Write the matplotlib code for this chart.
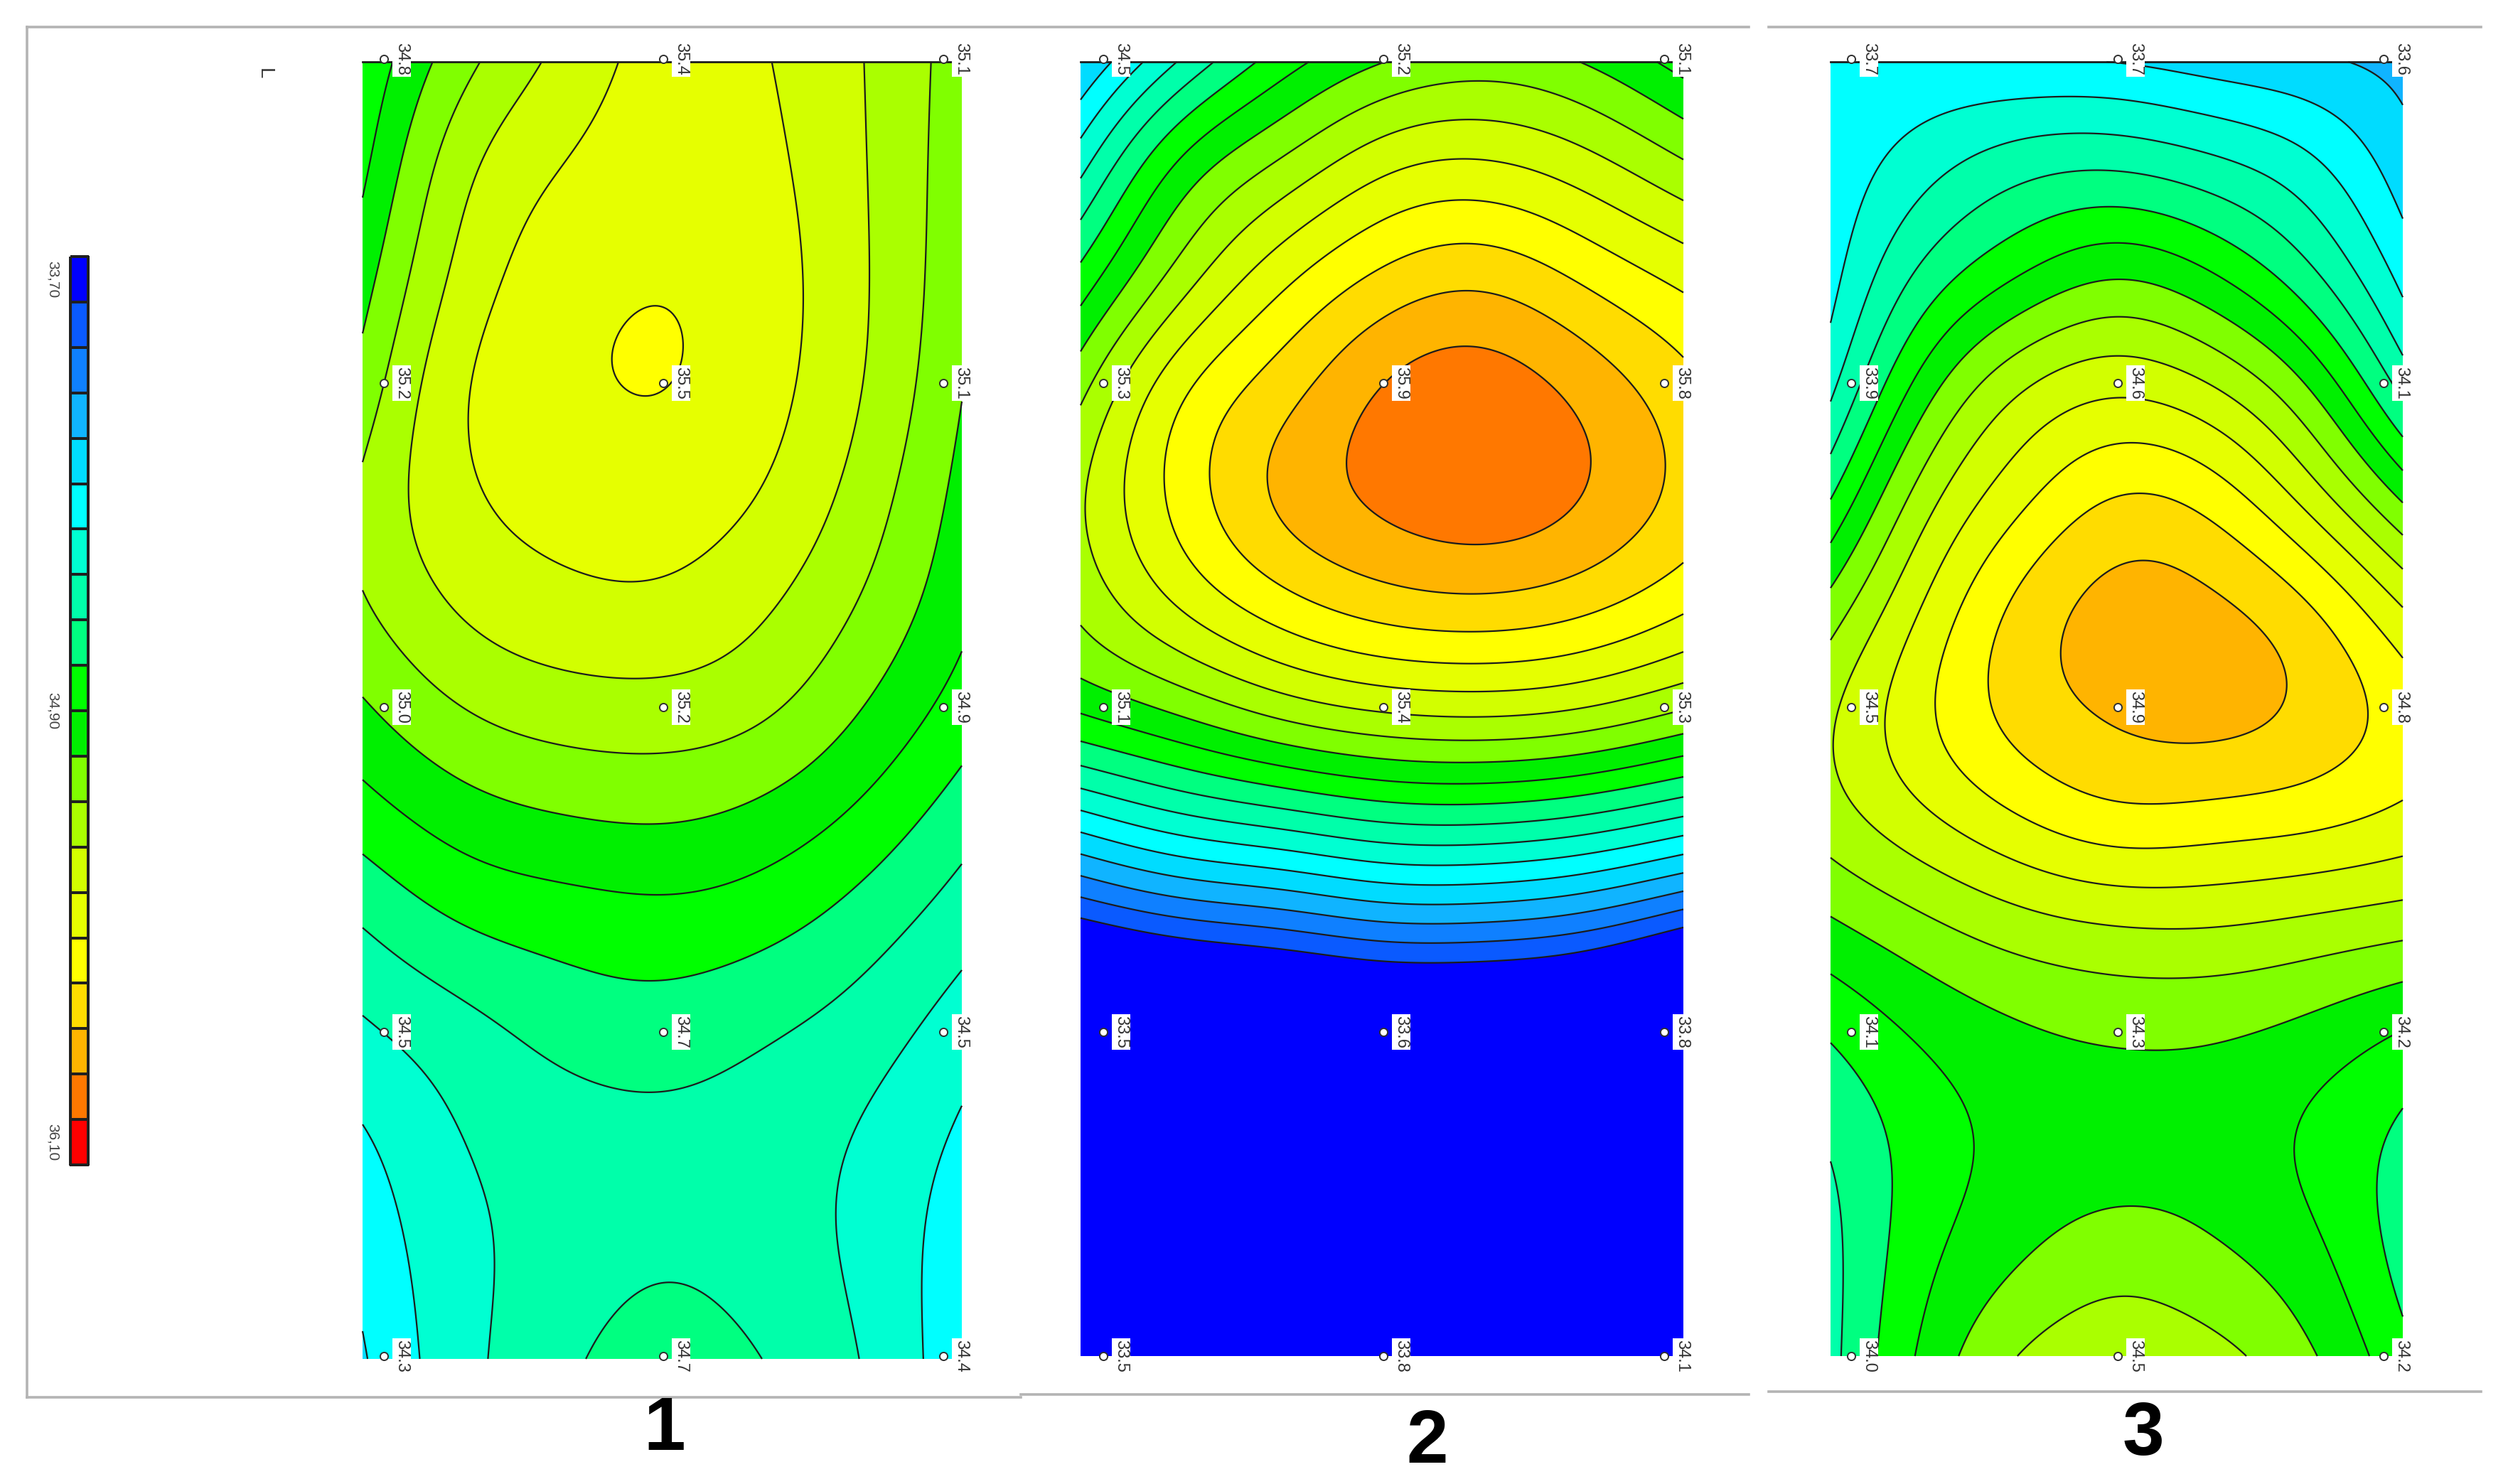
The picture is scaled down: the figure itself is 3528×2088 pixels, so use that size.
import numpy as np
import matplotlib
matplotlib.use("Agg")
import matplotlib.pyplot as plt

# --------- DATA ---------
# values are read off the picture in colour-band units: band k spans k..k+1
bar_colors = ['#0000ff', '#0a5aff', '#0f80ff', '#10b4ff', '#00dcff',
              '#00ffff', '#00ffd2', '#00ffaa', '#00ff80', '#00ff00',
              '#00f000', '#80ff00', '#aaff00', '#d2ff00', '#e6ff00',
              '#ffff00', '#ffdc00', '#ffb400', '#ff7800', '#ff0000']
bar_labels = ["33,70", "34,90", "36,10"]

panel1_bands = [
    [9.2, 11.7, 13.3, 14.4, 14.1, 13.05, 11.5],
    [9.8, 12.8, 14.05, 14.6, 14.3, 13.1, 11.4],
    [10.6, 13.4, 14.6, 14.97, 14.5, 13.15, 11.3],
    [11.4, 13.98, 14.83, 15.08, 14.42, 13.05, 11.05],
    [12.2, 13.85, 14.42, 14.55, 14.0, 12.6, 10.7],
    [11.95, 13.2, 13.75, 13.85, 13.2, 11.95, 10.3],
    [10.85, 12.0, 12.5, 12.6, 12.2, 11.0, 9.55],
    [9.5, 10.5, 10.95, 11.1, 10.7, 9.75, 8.45],
    [8.0, 9.0, 9.4, 9.6, 9.3, 8.5, 7.4],
    [6.8, 7.6, 8.3, 8.5, 8.1, 7.5, 6.45],
    [5.85, 7.0, 7.5, 7.7, 7.5, 6.9, 5.8],
    [5.3, 6.75, 7.4, 7.85, 7.5, 6.8, 5.4],
    [4.9, 6.72, 7.75, 8.6, 8.0, 7.0, 5.3],
]
panel2_bands = [
    [4.0, 7.15, 9.55, 11.0, 11.55, 11.0, 9.6],
    [6.8, 10.45, 12.3, 13.9, 14.3, 13.55, 12.25],
    [9.35, 12.5, 14.75, 16.25, 16.8, 15.85, 14.75],
    [11.7, 14.87, 16.55, 18.1, 18.6, 17.7, 16.35],
    [12.93, 15.45, 17.3, 18.3, 18.75, 18.1, 16.75],
    [12.35, 14.25, 15.75, 16.65, 16.9, 16.45, 15.35],
    [10.25, 11.3, 12.5, 13.2, 13.4, 13.05, 12.1],
    [5.7, 6.9, 7.6, 8.3, 8.4, 7.95, 7.0],
    [0.7, 1.7, 2.2, 2.9, 2.9, 2.4, 1.15],
    [-4.0, -3.0, -2.5, -2.0, -2.0, -2.5, -4.0],
    [-5.0, -4.0, -3.5, -3.0, -3.0, -4.0, -5.0],
    [-5.5, -5.0, -4.0, -3.5, -3.5, -4.5, -5.5],
    [-6.0, -5.0, -4.5, -4.0, -4.0, -5.0, -6.0],
]
panel3_bands = [
    [5.1, 5.15, 5.05, 5.0, 4.55, 4.2, 3.7],
    [5.3, 6.7, 7.75, 8.0, 7.4, 6.4, 4.5],
    [5.65, 8.4, 10.05, 11.05, 10.15, 8.35, 5.7],
    [6.7, 10.6, 12.95, 13.8, 13.05, 11.05, 7.6],
    [8.85, 12.6, 14.7, 16.05, 15.55, 13.55, 10.7],
    [11.3, 14.1, 16.3, 17.4, 17.2, 16.1, 13.9],
    [12.9, 14.9, 16.5, 17.2, 17.45, 16.85, 15.6],
    [12.6, 13.9, 15.05, 15.8, 15.65, 15.4, 14.8],
    [10.85, 11.8, 12.6, 13.0, 13.05, 12.75, 12.4],
    [9.1, 10.2, 10.85, 11.15, 11.1, 10.7, 9.9],
    [8.1, 9.5, 10.3, 10.5, 10.5, 9.85, 8.75],
    [7.7, 9.75, 10.85, 11.5, 11.1, 10.3, 8.6],
    [7.7, 10.3, 12.1, 12.7, 12.35, 11.2, 9.3],
]

panel1_labels = [["34.8", "35.4", "35.1"], ["35.2", "35.5", "35.1"], ["35.0", "35.2", "34.9"],
                 ["34.5", "34.7", "34.5"], ["34.3", "34.7", "34.4"]]
panel2_labels = [["34.5", "35.2", "35.1"], ["35.3", "35.9", "35.8"], ["35.1", "35.4", "35.3"],
                 ["33.5", "33.6", "33.8"], ["33.5", "33.8", "34.1"]]
panel3_labels = [["33.7", "33.7", "33.6"], ["33.9", "34.6", "34.1"], ["34.5", "34.9", "34.8"],
                 ["34.1", "34.3", "34.2"], ["34.0", "34.5", "34.2"]]
panel_names = ["1", "2", "3"]

# --------- LAYOUT (pixels of the 3528x2088 picture) ---------
PANEL_BOXES = [(510, 1353, 87, 1912), (1520, 2368, 87, 1908), (2575, 3380, 87, 1908)]
STATION_X = [(540, 933, 1327), (1552, 1946, 2341), (2604, 2979, 3353)]
STATION_Y = (83, 539, 995, 1452, 1908)
NAME_POS = [(935, 2012), (2008, 2030), (3015, 2020)]
FRAME_COLOR = "#b4b4b4"
SMOOTH_CELLS = (11, 14)  # gaussian width on the fine grid, rows and columns


def spline_matrix(n_knots, n_fine):
    """Natural cubic spline weights from n_knots read values to n_fine points."""
    A = np.zeros((n_knots, n_knots))
    D = np.zeros((n_knots, n_knots))
    A[0, 0] = A[-1, -1] = 1
    for i in range(1, n_knots - 1):
        A[i, i - 1:i + 2] = [1, 4, 1]
        D[i, i - 1:i + 2] = [6, -12, 6]
    M = np.linalg.solve(A, D)
    rows = []
    for t in np.linspace(0, n_knots - 1, n_fine):
        i = min(int(t), n_knots - 2)
        u = t - i
        row = (1 - u) * np.eye(n_knots)[i] + u * np.eye(n_knots)[i + 1]
        row = row + ((1 - u) ** 3 - (1 - u)) / 6 * M[i] + (u ** 3 - u) / 6 * M[i + 1]
        rows.append(row)
    return np.array(rows)


def blur(field, sigma, axis):
    """Takes the hand-reading wobble out of the contours."""
    half = 3 * sigma
    kernel = np.exp(-0.5 * (np.arange(-half, half + 1) / sigma) ** 2)
    kernel /= kernel.sum()
    widths = [(0, 0), (0, 0)]
    widths[axis] = (half, half)
    padded = np.pad(field, widths, mode="reflect", reflect_type="odd")
    return np.apply_along_axis(lambda v: np.convolve(v, kernel, mode="valid"), axis, padded)


def draw_panel(ax, bands, box, station_x, labels):
    left, right, top, bottom = box
    bands = np.array(bands)
    nrows, ncols = bands.shape
    fine = spline_matrix(nrows, 500) @ bands @ spline_matrix(ncols, 300).T
    fine = blur(blur(fine, SMOOTH_CELLS[0], 0), SMOOTH_CELLS[1], 1)
    X, Y = np.meshgrid(np.linspace(left, right, 300), np.linspace(top, bottom, 500))
    levels = np.arange(0, 21)
    ax.contourf(X, Y, fine, levels=levels, colors=bar_colors, extend="min", zorder=1)
    ax.contourf(X, Y, fine, levels=[-100, 0], colors=[bar_colors[0]], zorder=1)
    ax.contour(X, Y, fine, levels=levels[1:], colors="#1c1c1c", linewidths=0.8, zorder=2)
    ax.plot([left, right], [top, top], color="#1c1c1c", lw=1.0, zorder=2)
    for row, y in enumerate(STATION_Y):
        for col, x in enumerate(station_x):
            ax.plot(x, y, "o", ms=4, mfc="white", mec="#303030", mew=0.7, zorder=4)
            ax.text(x + 25, y, labels[row][col], rotation=-90, ha="center", va="center",
                    fontsize=8.5, color="#333333", zorder=3, family="Liberation Sans",
                    bbox=dict(facecolor="white", edgecolor="none", pad=0.8))


# --------- PLOT ---------
fig = plt.figure(figsize=(17.64, 10.44), dpi=200)
ax = fig.add_axes([0, 0, 1, 1])
ax.set_xlim(0, 3528)
ax.set_ylim(2088, 0)
ax.axis("off")

# frames around the panels
ax.plot([38, 38], [38, 1966], color=FRAME_COLOR, lw=1.3)
ax.plot([38, 2460], [38, 38], color=FRAME_COLOR, lw=1.3)
ax.plot([38, 1436], [1966, 1966], color=FRAME_COLOR, lw=1.3)
ax.plot([1436, 2460], [1962, 1962], color=FRAME_COLOR, lw=1.3)
ax.plot([2488, 3490], [38, 38], color=FRAME_COLOR, lw=1.3)
ax.plot([2488, 3490], [1958, 1958], color=FRAME_COLOR, lw=1.3)

# colour bar
bar_edges = np.linspace(361, 1639, len(bar_colors) + 1)
ax.pcolormesh([99, 124], bar_edges, np.arange(len(bar_colors)).reshape(-1, 1),
              cmap=matplotlib.colors.ListedColormap(bar_colors), edgecolors="#202020", linewidth=0.8)
bar_label_y = [bar_edges[0] + 32, 1000, bar_edges[-1] - 32]
for text, y in zip(bar_labels, bar_label_y):
    ax.text(74, y, text, rotation=-90, ha="center", va="center", fontsize=7.5,
            color="#444444", family="Liberation Sans")
ax.text(372, 104, "L", rotation=-90, ha="center", va="center", fontsize=10,
        color="#333333", family="Liberation Sans")

panels = [panel1_bands, panel2_bands, panel3_bands]
all_labels = [panel1_labels, panel2_labels, panel3_labels]
for bands, box, station_x, labels in zip(panels, PANEL_BOXES, STATION_X, all_labels):
    draw_panel(ax, bands, box, station_x, labels)

for name, (x, y) in zip(panel_names, NAME_POS):
    ax.text(x, y, name, ha="center", va="center", fontsize=38, fontweight="bold",
            color="black", family="Liberation Sans")

fig.savefig("out.png", dpi=200)
plt.close(fig)
